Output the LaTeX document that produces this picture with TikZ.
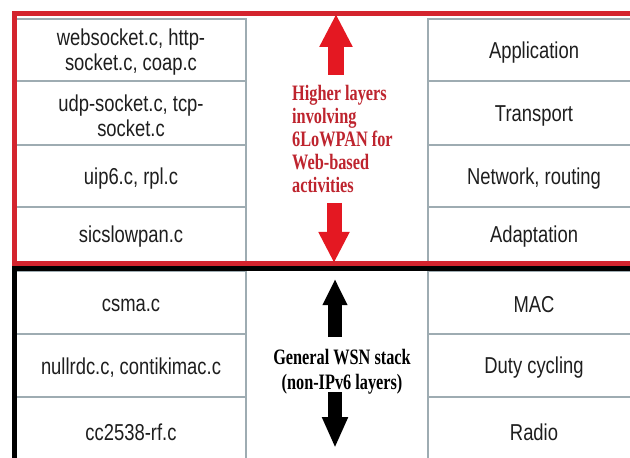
\documentclass[tikz,border=0pt]{standalone}
\usepackage{fontspec}
\setmainfont[FakeStretch=0.74]{Liberation Serif}
\newfontfamily\cellfont[FakeStretch=0.8]{Liberation Sans}
\usetikzlibrary{arrows.meta}
\definecolor{gridgray}{RGB}{158,172,178}
\definecolor{framered}{RGB}{212,36,46}
\definecolor{arrowred}{RGB}{228,24,34}
\definecolor{textred}{RGB}{190,36,46}
\definecolor{celltext}{RGB}{30,30,30}
\tikzset{
  cell/.style={draw=gridgray, line width=1.6bp, inner sep=0pt},
  leftcell/.style={cell, minimum width=230bp},
  rightcell/.style={cell, minimum width=212bp},
  celltxt/.style={inner sep=0pt, align=center, yshift=-2.5bp, text=celltext,
    font=\cellfont\fontsize{23bp}{25bp}\selectfont},
  frame/.style={line width=5bp},
  blockred/.style={line width=16bp, draw=arrowred},
  blockblack/.style={line width=14bp, draw=black},
  midtext/.style={inner sep=0pt, font=\bfseries\fontsize{22bp}{23bp}\selectfont}
}
\begin{document}
\begin{tikzpicture}[x=1bp, y=-1bp]
\clip (0,0) rectangle (630,458);
\fill[white] (0,0) rectangle (630,458);

% file column
\node[leftcell, minimum height=62bp, label={[celltxt]center:websocket.c, http-\\socket.c, coap.c}] (f1) at (131,50) {};
\node[leftcell, minimum height=64bp, label={[celltxt]center:udp-socket.c, tcp-\\socket.c}] (f2) at (131,113) {};
\node[leftcell, minimum height=62bp, label={[celltxt]center:uip6.c, rpl.c}] (f3) at (131,176) {};
\node[leftcell, minimum height=55bp, label={[celltxt]center:sicslowpan.c}] (f4) at (131,234.5) {};
\node[leftcell, minimum height=63bp, label={[celltxt]center:csma.c}] (f5) at (131,302.5) {};
\node[leftcell, minimum height=63bp, label={[celltxt]center:nullrdc.c, contikimac.c}] (f6) at (131,365.5) {};
\node[leftcell, minimum height=66bp, label={[celltxt]center:cc2538-rf.c}] (f7) at (131,430) {};

% layer column
\node[rightcell, minimum height=62bp, label={[celltxt]center:Application}] (l1) at (534,50) {};
\node[rightcell, minimum height=64bp, label={[celltxt]center:Transport}] (l2) at (534,113) {};
\node[rightcell, minimum height=62bp, label={[celltxt]center:Network, routing}] (l3) at (534,176) {};
\node[rightcell, minimum height=55bp, label={[celltxt]center:Adaptation}] (l4) at (534,234.5) {};
\node[rightcell, minimum height=63bp, label={[celltxt]center:MAC}] (l5) at (534,302.5) {};
\node[rightcell, minimum height=63bp, label={[celltxt]center:Duty cycling}] (l6) at (534,365.5) {};
\node[rightcell, minimum height=66bp, label={[celltxt]center:Radio}] (l7) at (534,430) {};

% group frames
\draw[frame, black] (14,269) rectangle (660,500);
\draw[frame, framered] (14,14) rectangle (660,263.5);

% middle labels
\node[midtext, text=textred, align=left, anchor=west] (hl) at (292,138.5)
  {Higher layers\\involving\\6LoWPAN for\\Web-based\\activities};
\node[midtext, text=black, align=center, font=\bfseries\fontsize{22bp}{25bp}\selectfont] (gw) at (342,371.5)
  {General WSN stack\\(non-IPv6 layers)};

% block arrows
\coordinate (ru-tail) at (336,75);
\coordinate (ru-tip) at (336,14);
\coordinate (rd-tail) at (334,203);
\coordinate (rd-tip) at (334,263);
\coordinate (bu-tail) at (335,337);
\coordinate (bu-tip) at (335,279);
\coordinate (bd-tail) at (335,392);
\coordinate (bd-tip) at (335,448);
\draw[blockred, -{Triangle[width=31bp, length=33bp, fill=arrowred]}] (ru-tail) -- (ru-tip);
\draw[blockred, line width=15bp, -{Triangle[width=29bp, length=31bp, fill=arrowred]}] (rd-tail) -- (rd-tip);
\draw[blockblack, -{Triangle[width=23bp, length=26bp]}] (bu-tail) -- (bu-tip);
\draw[blockblack, -{Triangle[width=24bp, length=31bp]}] (bd-tail) -- (bd-tip);
\end{tikzpicture}
\end{document}
